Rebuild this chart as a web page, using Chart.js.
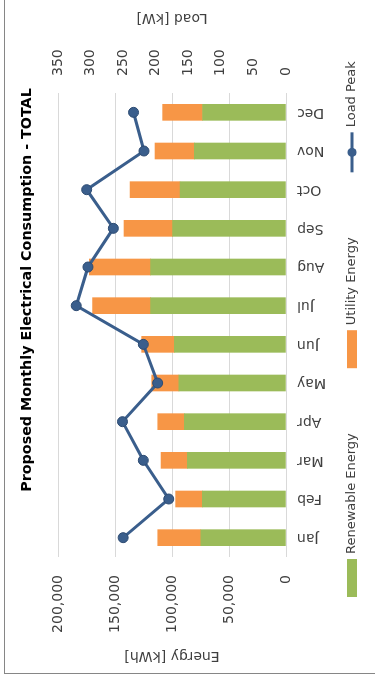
<!DOCTYPE html>
<html>
<head>
<meta charset="utf-8">
<script src="https://cdn.jsdelivr.net/npm/chart.js@4"></script>
<style>
  html, body { margin: 0; padding: 0; background: #fff; overflow: hidden; }
  #wrap {
    position: absolute; left: 0; top: 0;
    width: 684px; height: 375px;
    transform-origin: 0 0;
    transform: translateY(684px) rotate(-90deg);
  }
</style>
</head>
<body>
<div id="wrap"><canvas id="chart" width="684" height="375"></canvas></div>
<script>
const months = ['Jan', 'Feb', 'Mar', 'Apr', 'May', 'Jun', 'Jul', 'Aug', 'Sep', 'Oct', 'Nov', 'Dec'];
const renewableEnergy = [74800, 73400, 86600, 89200, 93900, 98000, 118700, 118700, 99400, 93000, 80400, 73200];
const utilityEnergy = [37700, 23400, 23000, 23300, 23900, 28600, 50900, 53800, 42700, 43800, 34500, 35000];
const loadPeak = [250, 180, 219, 251, 197, 219, 322, 304, 265, 306, 218, 234];
const energyTicks = [0, 50000, 100000, 150000, 200000];
const loadTicks = [0, 50, 100, 150, 200, 250, 300, 350];

const GREEN = '#9BBB59';
const ORANGE = '#F79646';
const BLUE = '#3A5E8C';
const TEXT = '#404040';
const FONT = "'DejaVu Sans'";

Chart.defaults.font.family = FONT;
Chart.defaults.color = TEXT;

// title, frame, right axis title and legend are drawn by hand (the chart is shown rotated)
const decor = {
  id: 'decor',
  beforeDraw(chart) {
    const ctx = chart.ctx;
    ctx.save();
    ctx.fillStyle = '#fff';
    ctx.fillRect(0, 0, chart.width, chart.height);
    ctx.strokeStyle = '#868686';
    ctx.lineWidth = 1;
    ctx.strokeRect(10.5, 4.5, 800, 500);
    ctx.restore();
  },
  afterDraw(chart) {
    const ctx = chart.ctx;
    const area = chart.chartArea;
    ctx.save();
    ctx.textBaseline = 'middle';

    // chart title
    ctx.fillStyle = '#000';
    ctx.font = "bold 14.3px " + FONT;
    ctx.textAlign = 'center';
    ctx.fillText('Proposed Monthly Electrical Consumption - TOTAL', 394, 27);

    // secondary axis title
    ctx.save();
    ctx.translate(666, (area.top + area.bottom) / 2);
    ctx.rotate(-Math.PI / 2);
    ctx.fillStyle = TEXT;
    ctx.font = "14px " + FONT;
    ctx.fillText('Load [kW]', 0, 0);
    ctx.restore();

    // legend
    const y = 352;
    let x = 87;
    ctx.font = "13px " + FONT;
    ctx.textAlign = 'left';
    chart.data.datasets.forEach(ds => {
      if (ds.type === 'line') {
        ctx.strokeStyle = ds.borderColor;
        ctx.lineWidth = 3;
        ctx.beginPath();
        ctx.moveTo(x, y);
        ctx.lineTo(x + 40, y);
        ctx.stroke();
        ctx.beginPath();
        ctx.arc(x + 20, y, 4.5, 0, Math.PI * 2);
        ctx.fillStyle = ds.pointBackgroundColor;
        ctx.fill();
        x += 45;
      } else {
        ctx.fillStyle = ds.backgroundColor;
        ctx.fillRect(x, y - 5, 38, 10);
        x += 43;
      }
      ctx.fillStyle = TEXT;
      ctx.fillText(ds.label, x, y);
      x += ctx.measureText(ds.label).width + 65;
    });
    ctx.restore();
  }
};

new Chart(document.getElementById('chart'), {
  type: 'bar',
  data: {
    labels: months,
    datasets: [
      {
        label: 'Renewable Energy',
        data: renewableEnergy,
        backgroundColor: GREEN,
        yAxisID: 'y',
        stack: 'energy',
        barThickness: 16,
        order: 1
      },
      {
        label: 'Utility Energy',
        data: utilityEnergy,
        backgroundColor: ORANGE,
        yAxisID: 'y',
        stack: 'energy',
        barThickness: 16,
        order: 1
      },
      {
        type: 'line',
        label: 'Load Peak',
        data: loadPeak,
        borderColor: BLUE,
        borderWidth: 3,
        pointRadius: 5,
        pointBackgroundColor: BLUE,
        pointBorderColor: '#2D4B72',
        pointBorderWidth: 1,
        yAxisID: 'y1',
        tension: 0,
        order: 0
      }
    ]
  },
  options: {
    responsive: false,
    animation: false,
    layout: { padding: { left: 10, top: 58, right: 0, bottom: 0 } },
    plugins: {
      legend: { display: false },
      title: { display: false },
      tooltip: { enabled: false }
    },
    scales: {
      x: {
        stacked: true,
        grid: { display: false, drawTicks: false },
        border: { display: false },
        ticks: { minRotation: 90, maxRotation: 90, padding: 11, font: { size: 14 }, color: TEXT },
        afterFit(scale) { scale.height = 89; }
      },
      y: {
        position: 'left',
        stacked: true,
        min: 0,
        max: 200000,
        afterBuildTicks(scale) { scale.ticks = energyTicks.map(v => ({ value: v })); },
        ticks: {
          padding: 18,
          font: { size: 14 },
          color: TEXT,
          callback: v => v.toLocaleString('en-US')
        },
        grid: { color: '#D9D9D9', drawTicks: false },
        border: { display: false },
        title: { display: true, text: 'Energy [kWh]', font: { size: 14 }, color: TEXT, padding: { top: 9.6, bottom: 0 } },
        afterFit(scale) { scale.width = 117; }
      },
      y1: {
        position: 'right',
        min: 0,
        max: 350,
        afterBuildTicks(scale) { scale.ticks = loadTicks.map(v => ({ value: v })); },
        ticks: { padding: 17, font: { size: 14 }, color: TEXT },
        grid: { display: false, drawTicks: false },
        border: { display: false },
        afterFit(scale) { scale.width = 93; }
      }
    }
  },
  plugins: [decor]
});
</script>
</body>
</html>
